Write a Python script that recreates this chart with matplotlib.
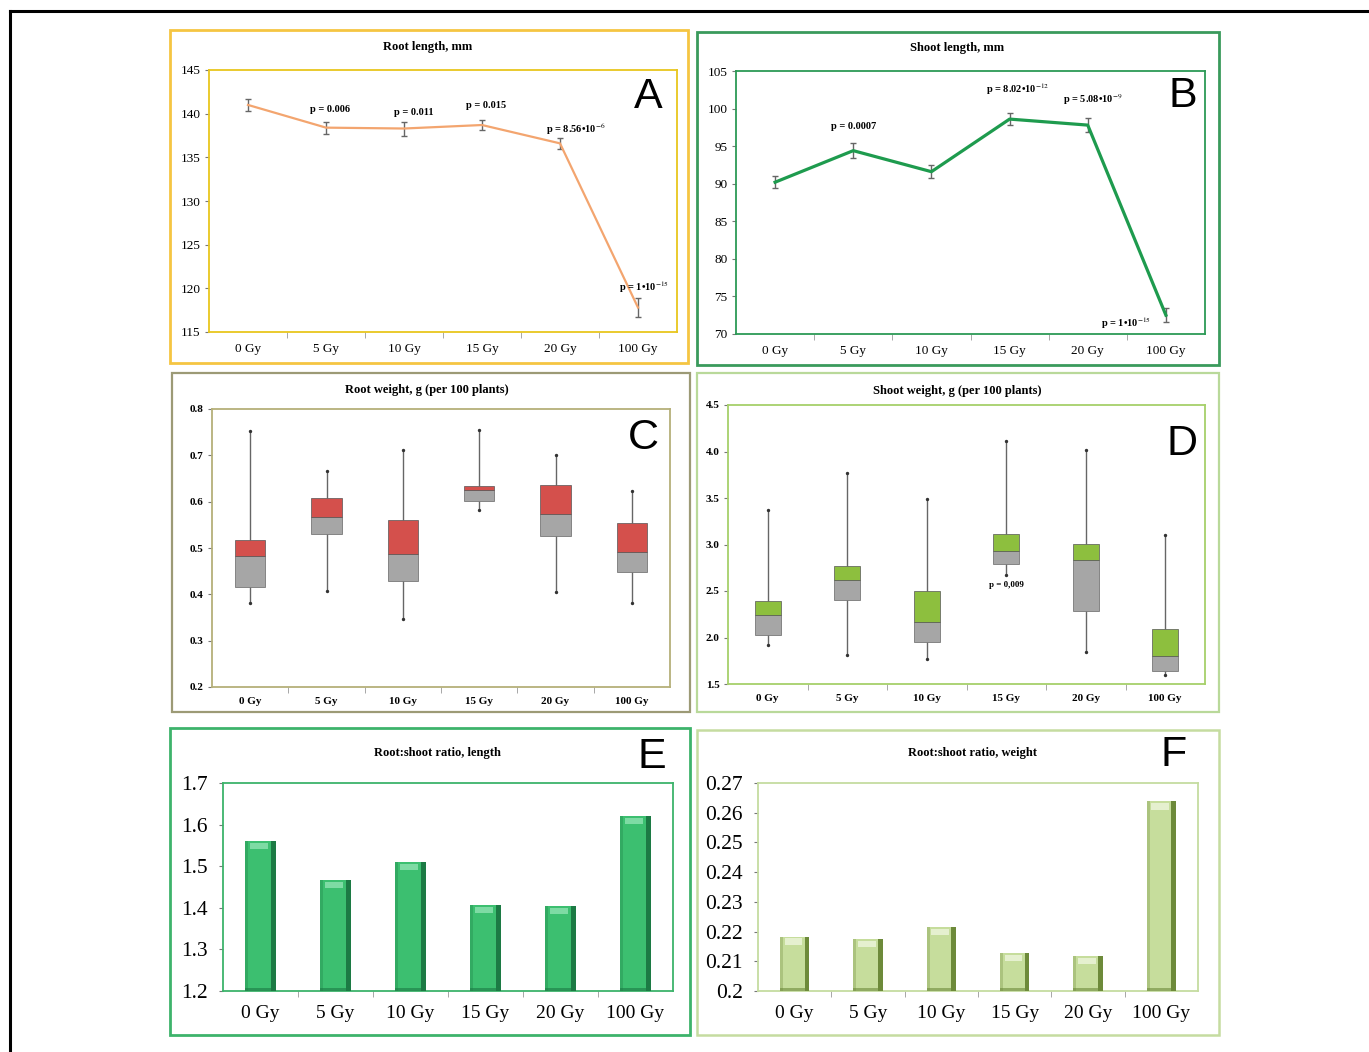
import matplotlib.pyplot as plt
from matplotlib.patches import Rectangle
from matplotlib.lines import Line2D
import numpy as np

plt.rcParams['font.family'] = ['Liberation Serif', 'DejaVu Serif']
plt.rcParams['mathtext.fontset'] = 'stix'

W, H = 1369, 1052

doses = ["0 Gy", "5 Gy", "10 Gy", "15 Gy", "20 Gy", "100 Gy"]

# A - root length
root_len = [141.0, 138.4, 138.3, 138.7, 136.6, 117.8]
root_len_err = [0.7, 0.7, 0.8, 0.6, 0.6, 1.1]
root_len_p = ["", "p = 0.006", "p = 0.011", "p = 0.015",
              "p = 8.56•10$^{-6}$", "p = 1•10$^{-15}$"]

# B - shoot length
shoot_len = [90.2, 94.4, 91.6, 98.6, 97.8, 72.5]
shoot_len_err = [0.8, 1.0, 0.9, 0.8, 0.9, 0.9]
shoot_len_p = ["", "p = 0.0007", "", "p = 8.02•10$^{-12}$",
               "p = 5.08•10$^{-9}$", "p = 1•10$^{-15}$"]

# C - root weight (whisker low, Q1, median, Q3, whisker high)
rw_low = [0.382, 0.407, 0.346, 0.583, 0.404, 0.382]
rw_q1 = [0.416, 0.531, 0.428, 0.601, 0.525, 0.448]
rw_med = [0.482, 0.567, 0.486, 0.625, 0.574, 0.492]
rw_q3 = [0.518, 0.607, 0.560, 0.634, 0.636, 0.554]
rw_high = [0.752, 0.666, 0.711, 0.755, 0.701, 0.623]

# D - shoot weight
sw_low = [1.92, 1.816, 1.769, 2.667, 1.841, 1.60]
sw_q1 = [2.031, 2.398, 1.956, 2.793, 2.290, 1.643]
sw_med = [2.247, 2.614, 2.164, 2.930, 2.836, 1.805]
sw_q3 = [2.391, 2.764, 2.495, 3.117, 3.009, 2.093]
sw_high = [3.368, 3.774, 3.494, 4.116, 4.015, 3.106]
sw_p = ["", "", "", "p = 0,009", "", ""]

# E, F - root:shoot ratios
ratio_len = [1.56, 1.466, 1.510, 1.406, 1.404, 1.62]
ratio_wt = [0.2183, 0.2174, 0.2215, 0.2129, 0.2118, 0.2638]

x = np.arange(len(doses))

fig = plt.figure(figsize=(W / 100, H / 100), dpi=100)


def axes_px(l, t, r, b):
    return fig.add_axes([l / W, 1 - b / H, (r - l) / W, (b - t) / H])


def frame_px(l, t, r, b, color, lw=1.6):
    fig.add_artist(Rectangle((l / W, 1 - b / H), (r - l) / W, (b - t) / H,
                             transform=fig.transFigure, fill=False,
                             edgecolor=color, lw=lw))


def text_px(xp, yp, s, **kw):
    fig.text(xp / W, 1 - yp / H, s, ha='center', va='center', **kw)


def style_axes(ax, color, ylim, yticks, ylabels, fs, bold, pad, yfs=None, ypad=3):
    ax.set_xlim(-0.5, 5.5)
    ax.set_ylim(*ylim)
    for s in ax.spines.values():
        s.set_color(color)
        s.set_linewidth(1.3)
    ax.set_xticks(x)
    ax.set_xticklabels(doses, fontsize=fs, fontweight='bold' if bold else 'normal')
    ax.set_xticks(np.arange(0.5, 5.0, 1.0), minor=True)
    ax.tick_params(axis='x', which='major', length=0, pad=pad)
    ax.tick_params(axis='x', which='minor', length=4, color='#999999')
    ax.set_yticks(yticks)
    ax.set_yticklabels(ylabels, fontsize=yfs or fs, fontweight='bold' if bold else 'normal')
    ax.tick_params(axis='y', length=3, color='#777777', pad=ypad)


big = dict(family=['Liberation Sans', 'DejaVu Sans'], fontsize=31)
title_kw = dict(fontsize=9, fontweight='bold')

# overall black frame (open at right and bottom)
fig.add_artist(Line2D([10 / W, 1.0], [1 - 11 / H, 1 - 11 / H],
                      transform=fig.transFigure, color='black', lw=2.2))
fig.add_artist(Line2D([10 / W, 10 / W], [0.0, 1 - 11 / H],
                      transform=fig.transFigure, color='black', lw=2.2))

# ---------------- A ----------------
frame_px(170, 30, 688, 363, '#f5c542', 2)
ax = axes_px(209, 70, 677, 332)
ax.errorbar(x, root_len, yerr=root_len_err, color='#f3a56f', lw=1.6,
            ecolor='#666666', elinewidth=1, capsize=2, capthick=1)
style_axes(ax, '#e8c61e', (115, 145), np.arange(115, 146, 5),
           [str(v) for v in range(115, 146, 5)], 9.5, False, 8)
offs_a = [(0, 0), (4, 18), (10, 16), (4, 20), (16, 14), (6, 20)]
for i, s in enumerate(root_len_p):
    if s:
        ax.annotate(s, (x[i], root_len[i]), xytext=offs_a[i], textcoords='offset pixels',
                    ha='center', va='center', fontsize=7.5, fontweight='bold')
text_px(428, 47, "Root length, mm", **title_kw)
text_px(648, 97, "A", **big)

# ---------------- B ----------------
frame_px(697, 32, 1219, 365, '#3a9a5c', 2)
ax = axes_px(736, 71, 1205, 334)
ax.errorbar(x, shoot_len, yerr=shoot_len_err, color='#1e9b4e', lw=2.3,
            ecolor='#666666', elinewidth=1, capsize=2, capthick=1)
style_axes(ax, '#2c9a56', (70, 105), np.arange(70, 106, 5),
           [str(v) for v in range(70, 106, 5)], 9.5, False, 8)
offs_b = [(0, 0), (0, 24), (0, 0), (8, 30), (5, 26), (-40, -8)]
for i, s in enumerate(shoot_len_p):
    if s:
        ax.annotate(s, (x[i], shoot_len[i]), xytext=offs_b[i], textcoords='offset pixels',
                    ha='center', va='center', fontsize=7.5, fontweight='bold')
text_px(957, 48, "Shoot length, mm", **title_kw)
text_px(1183, 96, "B", **big)


def two_tone_box(ax, low, q1, med, q3, high, top_color, w):
    q1 = np.array(q1); med = np.array(med); q3 = np.array(q3)
    ax.vlines(x, low, q1, color='#666666', lw=1, zorder=1)
    ax.vlines(x, q3, high, color='#666666', lw=1, zorder=1)
    ax.scatter(x, low, s=2, color='#333333', zorder=3)
    ax.scatter(x, high, s=2, color='#333333', zorder=3)
    ax.bar(x, med - q1, w, bottom=q1, color='#a6a6a6', edgecolor='#666666',
           lw=0.5, zorder=2)
    ax.bar(x, q3 - med, w, bottom=med, color=top_color, edgecolor='#555555',
           lw=0.5, zorder=2)


# ---------------- C ----------------
frame_px(172, 373, 690, 712, '#9c9a76', 1.6)
ax = axes_px(212, 409, 670, 687)
two_tone_box(ax, rw_low, rw_q1, rw_med, rw_q3, rw_high, '#d4504c', 0.4)
style_axes(ax, '#b5b07a', (0.2, 0.8), np.arange(0.2, 0.81, 0.1),
           ["%.1f" % v for v in np.arange(0.2, 0.81, 0.1)], 8, True, 7)
text_px(427, 390, "Root weight, g (per 100 plants)", **title_kw)
text_px(643, 438, "C", **big)

# ---------------- D ----------------
frame_px(697, 373, 1219, 712, '#b9d99a', 1.6)
ax = axes_px(728, 405, 1205, 684)
two_tone_box(ax, sw_low, sw_q1, sw_med, sw_q3, sw_high, '#8dbf3e', 0.33)
style_axes(ax, '#a6d06a', (1.5, 4.5), np.arange(1.5, 4.51, 0.5),
           ["%.1f" % v for v in np.arange(1.5, 4.51, 0.5)], 8, True, 7)
for i, s in enumerate(sw_p):
    if s:
        ax.annotate(s, (x[i], sw_low[i]), xytext=(0, -10), textcoords='offset pixels',
                    ha='center', va='center', fontsize=6.5, fontweight='bold')
text_px(957, 391, "Shoot weight, g (per 100 plants)", **title_kw)
text_px(1182, 444, "D", **big)


def bevel_bars(ax, vals, base, span, face, dark, light, w):
    h = np.array(vals) - base
    cap = span * 0.03
    ax.bar(x, h, w, bottom=base, color=face, zorder=2)
    ax.bar(x + w * 0.42, h, w * 0.16, bottom=base, color=dark, zorder=3)
    ax.bar(x - w * 0.45, h, w * 0.1, bottom=base, color=dark, alpha=0.3, zorder=3)
    ax.bar(x - w * 0.04, cap, w * 0.6, bottom=np.array(vals) - cap * 1.3,
           color=light, alpha=0.8, zorder=4)
    ax.bar(x, cap * 0.5, w, bottom=base, color=dark, alpha=0.6, zorder=3)


# ---------------- E ----------------
frame_px(170, 728, 690, 1035, '#3db36b', 2)
ax = axes_px(223, 783, 673, 991)
bevel_bars(ax, ratio_len, 1.2, 0.5, '#3cbf70', '#1c7a44', '#8fe3b2', 0.41)
style_axes(ax, '#3db36b', (1.2, 1.7), np.arange(1.2, 1.71, 0.1),
           ["%.1f" % v for v in np.arange(1.2, 1.71, 0.1)], 14, False, 10,
           yfs=15.5, ypad=8)
text_px(437, 753, "Root:shoot ratio, length", **title_kw)
text_px(652, 757, "E", **big)

# ---------------- F ----------------
frame_px(697, 730, 1219, 1035, '#c5dca0', 1.8)
ax = axes_px(758, 783, 1198, 991)
bevel_bars(ax, ratio_wt, 0.2, 0.07, '#c6dd9c', '#6d8a3a', '#eef6dc', 0.4)
style_axes(ax, '#c5dca0', (0.2, 0.27), np.arange(0.2, 0.2701, 0.01),
           ["%g" % round(v, 2) for v in np.arange(0.2, 0.2701, 0.01)], 14, False, 10,
           yfs=15.5, ypad=8)
text_px(972, 753, "Root:shoot ratio, weight", **title_kw)
text_px(1174, 755, "F", **big)

fig.savefig("out.png", dpi=100)
